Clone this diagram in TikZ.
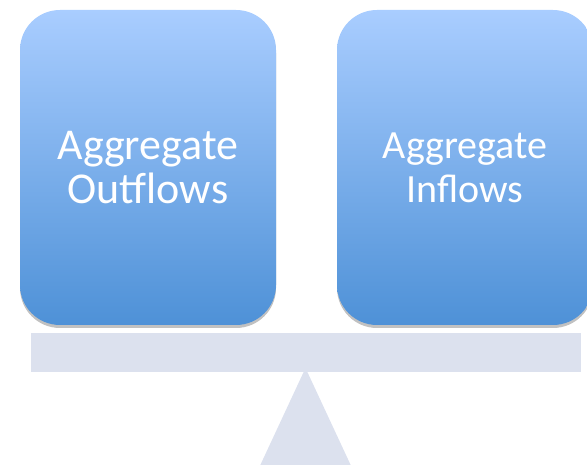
\documentclass[tikz,border=0pt]{standalone}
\usepackage{fontspec}
\setmainfont{Carlito}
\usepackage{tikz}
\usetikzlibrary{shapes, positioning}
\usetikzlibrary{shadows}
\definecolor{boxtop}{HTML}{A9CDFF}
\definecolor{boxbottom}{HTML}{4E91D7}
\definecolor{scalegray}{HTML}{DCE1EE}

\begin{document}
\begin{tikzpicture}[x=1pt, y=1pt,
		flowbox/.style={rectangle, rounded corners=40pt, minimum width=256pt, minimum height=315pt,
			top color=boxtop, bottom color=boxbottom, text=white, align=center,
			drop shadow={shadow xshift=0pt, shadow yshift=-3pt, opacity=0.35, fill=black!70}},
		beam/.style={fill=scalegray, draw=none}]
			\useasboundingbox (0,0) rectangle (587,465);
			% pivot and beam of the scale
			\fill[scalegray] (305.5,97) coordinate (apex) -- (258,-5) -- (353,-5) -- cycle;
			\node[beam, rectangle, minimum width=550pt, minimum height=39pt, inner sep=0pt] (bar) at (306,112.5) {};
			% the two pans
			\node[flowbox, font=\fontsize{44}{44}\selectfont] (outflows) at (148,297.5) {Aggregate\\Outflows};
			\node[flowbox, font=\fontsize{40}{44}\selectfont] (inflows) at (465,297.5) {Aggregate\\Inflows};
		\end{tikzpicture}
\end{document}
